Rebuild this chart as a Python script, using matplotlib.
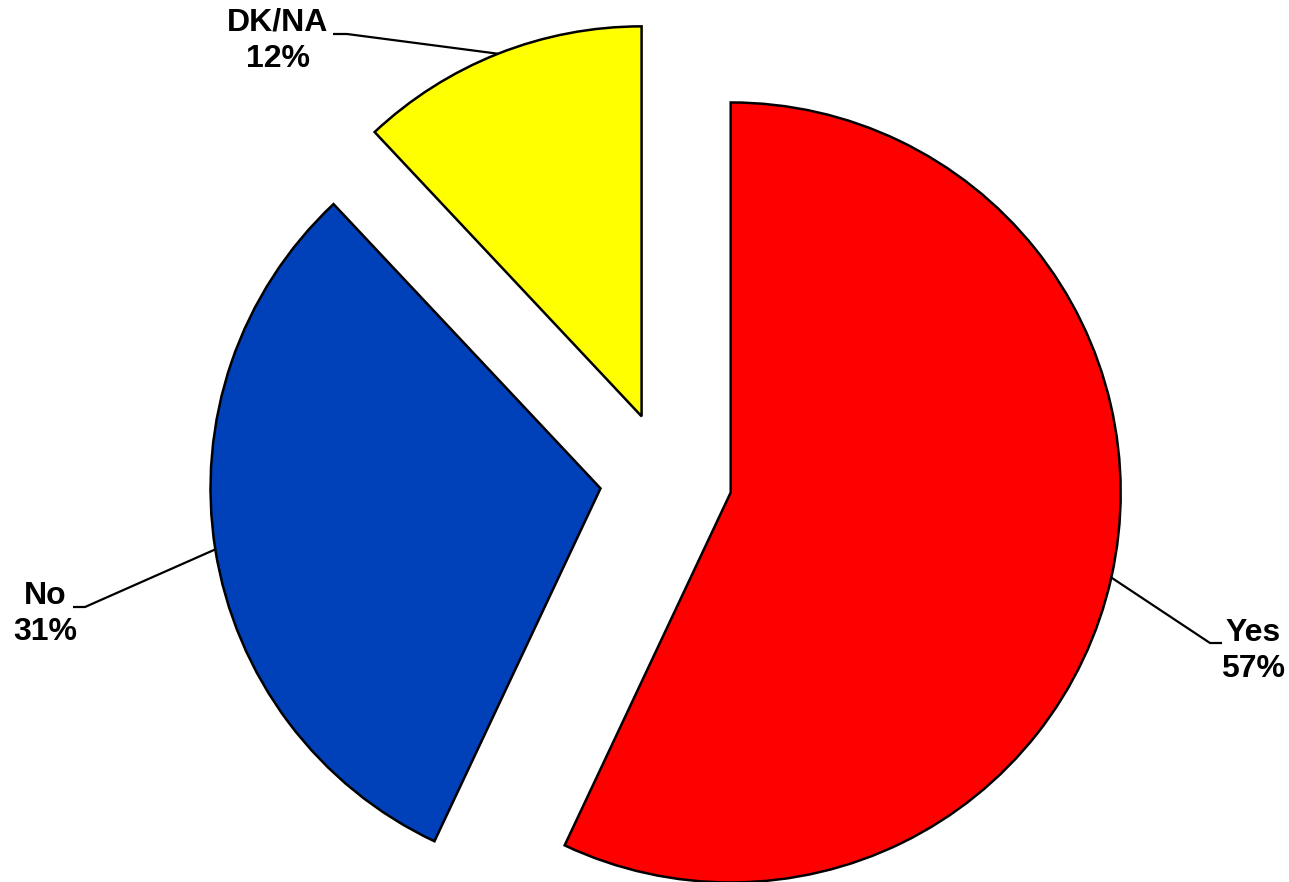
import numpy as np
import matplotlib
matplotlib.use('Agg')
import matplotlib.pyplot as plt

# dados do grafico
categorias = ['Yes', 'No', 'DK/NA']
valores = [57, 31, 12]
cores = ['#FF0000', '#0040B8', '#FFFF00']

# escala: 390 px por unidade, centro da pizza no pixel (666, 478)
W, H = 1289, 882
escala = 390.0
cx, cy = 666.0, 478.0


def px(x, y):
    # pixel da imagem -> coordenada de dados
    return (x - cx) / escala, (cy - y) / escala


fig = plt.figure(figsize=(W / 100, H / 100), dpi=100)
ax = fig.add_axes([0, 0, 1, 1])

fatias, _ = ax.pie(valores, colors=cores, startangle=90, counterclock=False,
                   explode=[0.17] * 3, radius=1.0,
                   wedgeprops=dict(edgecolor='black', linewidth=1.8))

ax.set_aspect('auto')
x0, y1 = px(0, 0)
x1, y0 = px(W, H)
ax.set_xlim(x0, x1)
ax.set_ylim(y0, y1)
ax.axis('off')

# rotulos: posicao do texto (px), ponta do "cotovelo" (px)
rotulos = {
    'Yes': ((1253, 651), (1222, 643), (1210, 643)),
    'No': ((45, 614), (73, 607), (85, 607)),
    'DK/NA': ((278, 41), (333, 34), (347, 34)),
}

for fatia, nome, v in zip(fatias, categorias, valores):
    meio = np.deg2rad((fatia.theta1 + fatia.theta2) / 2)
    xc, yc = fatia.center
    ancora = (xc + fatia.r * np.cos(meio), yc + fatia.r * np.sin(meio))
    pos_txt, p_a, p_b = rotulos[nome]
    a = px(*p_a)
    b = px(*p_b)
    ax.plot([a[0], b[0], ancora[0]], [a[1], b[1], ancora[1]],
            color='black', lw=1.6, solid_capstyle='butt')
    tx, ty = px(*pos_txt)
    ax.text(tx, ty, f'{nome}\n{v}%', ha='center', va='center',
            fontsize=23, fontweight='bold', family='Liberation Sans',
            linespacing=1.3)

fig.savefig('out.png', dpi=100)
